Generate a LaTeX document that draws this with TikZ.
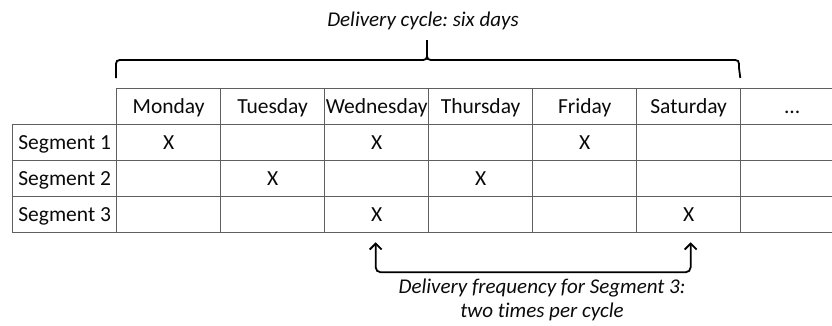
\documentclass[tikz,border=0pt]{standalone}
\usepackage{fontspec}
\setmainfont{Carlito}[Ligatures=NoCommon]
\frenchspacing
\usetikzlibrary{arrows.meta,calc}
\definecolor{tablegray}{RGB}{95,95,95}
\definecolor{inkc}{RGB}{10,10,10}
\tikzset{
  cell/.style={draw=tablegray, line width=1.3pt, minimum width=104pt, minimum height=36pt,
    inner sep=0pt, anchor=north west, text=inkc, text height=14pt, text depth=0pt,
    font=\fontsize{21.5}{25}\selectfont},
  lastcell/.style={cell, minimum width=93pt},
  xmark/.style={text=inkc, inner sep=0pt, text height=14pt, text depth=0pt,
    font=\fontsize{21.5}{25}\selectfont},
  bracestyle/.style={draw=black, line width=1.8pt},
  arrowline/.style={draw=black, line width=1.8pt, rounded corners=5pt},
  note/.style={text=inkc, inner sep=0pt, align=center, font=\fontsize{21}{23.5}\selectfont\itshape}
}
\begin{document}
\begin{tikzpicture}[x=1pt,y=-1pt]
\useasboundingbox (0,0) rectangle (832,325);
% header
\foreach \n [count=\i] in {Monday,Tuesday,Wednesday,Thursday,Friday,Saturday}
  \node[cell] (d\i) at ({116+104*(\i-1)},88) {\n};
\node[lastcell] (d7) at (740,88) {\hspace*{10pt}...};
% rows
\foreach \r in {1,2,3} {
  \node[cell] (l\r) at (12,{124+36*(\r-1)}) {Segment \r};
  \foreach \c in {1,...,6}
    \node[cell] (c\r\c) at ({116+104*(\c-1)},{124+36*(\r-1)}) {};
  \node[lastcell] (c\r7) at (740,{124+36*(\r-1)}) {};
}
% marks
\foreach \r/\c in {1/1,1/3,1/5,2/2,2/4,3/3,3/6}
  \node[xmark] (x\r\c) at (c\r\c) {X};
% brace
\coordinate (bl) at ($(d1.north west)+(0,-10)$);
\coordinate (br) at ($(d6.north east)+(-1,-10)$);
\coordinate (tip) at ($(d4.north west)+(-1,-48)$);
\draw[bracestyle] (bl) -- (116,68) .. controls (116,60) .. (124,60) -- (419,60)
  .. controls (427,60) .. (427,52) -- (tip) -- (427,52) .. controls (427,60) .. (435,60)
  -- (731,60) .. controls (739,60) .. (739,68) -- (br);
\node[note, anchor=base] (title) at (423,26) {Delivery cycle: six days};
% bottom arrows
\coordinate (aL) at ($(c33.south)+(-1,9)$);
\coordinate (aR) at ($(c36.south)+(2,9)$);
\draw[arrowline, {Straight Barb[length=6pt,width=12pt]}-{Straight Barb[length=6pt,width=12pt]}]
  (aL) -- ($(aL)+(0,30)$) -| (aR);
\node[note, anchor=north] (freq) at (542,279) {Delivery frequency for Segment 3:\\two times per cycle};
\end{tikzpicture}
\end{document}
